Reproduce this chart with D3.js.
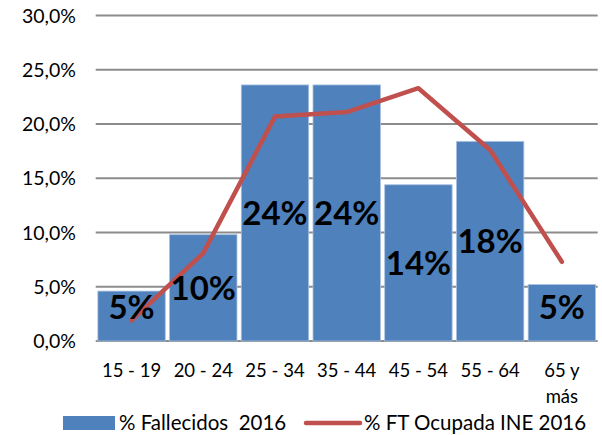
<!DOCTYPE html>
<html>
<head>
<meta charset="utf-8">
<script src="https://cdn.jsdelivr.net/npm/d3@7"></script>
<style>
body{margin:0;background:#fff;}
svg{font-family:Lato,"Liberation Sans",sans-serif;}
text{white-space:pre;}
</style>
</head>
<body>
<div class="chart"></div>
<script>
var categories = ["15 - 19","20 - 24","25 - 34","35 - 44","45 - 54","55 - 64","65 y|más"];
var fallecidos = [4.6, 9.8, 23.6, 23.6, 14.4, 18.4, 5.2];
var fallecidosLabels = ["5%","10%","24%","24%","14%","18%","5%"];
var ocupada = [1.9, 8.1, 20.7, 21.1, 23.3, 17.6, 7.3];
var yTicks = [0,5,10,15,20,25,30];
var seriesNames = ["% Fallecidos  2016","% FT Ocupada INE 2016"];

var width = 602, height = 435;
var svg = d3.select(".chart").append("svg").attr("width",width).attr("height",height)

var x = d3.scaleBand().domain(categories).range([95.7,597.7]).paddingInner(0.06).paddingOuter(0.03)
var y = d3.scaleLinear().domain([0,30]).range([341,15.5])

// gridlines
svg.append("g").selectAll("line").data(yTicks).enter().append("line")
	.attr("x1",95.7).attr("x2",597.7)
	.attr("y1",function(d){return y(d)}).attr("y2",function(d){return y(d)})
	.attr("stroke","#8c8c8c").attr("stroke-width",2)

// y labels
svg.append("g").selectAll("text").data(yTicks).enter().append("text")
	.attr("x",76).attr("y",function(d){return y(d)})
	.attr("dy","0.36em")
	.attr("text-anchor","end")
	.style("font-size","19.5px")
	.attr("fill","#000")
	.text(function(d){return d.toFixed(1).replace(".",",")+"%"})

// bars
svg.append("g").selectAll("rect").data(fallecidos).enter().append("rect")
	.attr("x",function(d,i){return x(categories[i])})
	.attr("width",x.bandwidth())
	.attr("y",function(d){return y(d)})
	.attr("height",function(d){return y(0)-y(d)})
	.attr("fill","#4F81BD")
	.attr("stroke","#a9c1e0").attr("stroke-width",0.8)

// line
var line = d3.line()
	.x(function(d,i){return x(categories[i])+x.bandwidth()/2})
	.y(function(d){return y(d)})
svg.append("path").datum(ocupada)
	.attr("d",line)
	.attr("fill","none")
	.attr("stroke","#C0504D")
	.attr("stroke-width",4.5)
	.attr("stroke-linejoin","round")
	.attr("stroke-linecap","round")

// data labels
svg.append("g").selectAll("text").data(fallecidos).enter().append("text")
	.attr("x",function(d,i){return x(categories[i])+x.bandwidth()/2})
	.attr("y",function(d){return Math.min((y(d)+y(0))/2, y(0)-34)})
	.attr("dy","0.36em")
	.attr("text-anchor","middle")
	.style("font-size","33px").style("font-weight","bold")
	.attr("fill","#000")
	.text(function(d,i){return fallecidosLabels[i]})

// x labels
var xl = svg.append("g").selectAll("text").data(categories).enter().append("text")
	.attr("x",function(d){return x(d)+x.bandwidth()/2})
	.attr("y",370)
	.attr("text-anchor","middle")
	.style("font-size","18.5px")
	.attr("fill","#000")
xl.each(function(d){
	var t = d3.select(this)
	d.split("|").forEach(function(part,j){
		t.append("tspan").attr("x",x(d)+x.bandwidth()/2).attr("dy",j==0?"0.36em":"26.7px").text(part)
	})
})

// legend
var lg = svg.append("g")
lg.append("rect").attr("x",63).attr("y",416).attr("width",52).attr("height",14).attr("fill","#4F81BD")
lg.append("text").attr("x",119).attr("y",422.5).attr("dy","0.36em").style("font-size","20.5px").attr("fill","#000").text(seriesNames[0])
lg.append("line").attr("x1",306).attr("x2",360).attr("y1",423).attr("y2",423)
	.attr("stroke","#C0504D").attr("stroke-width",4.5).attr("stroke-linecap","round")
lg.append("text").attr("x",364).attr("y",422.5).attr("dy","0.36em").style("font-size","20.5px").attr("fill","#000").text(seriesNames[1])
</script>
</body>
</html>
